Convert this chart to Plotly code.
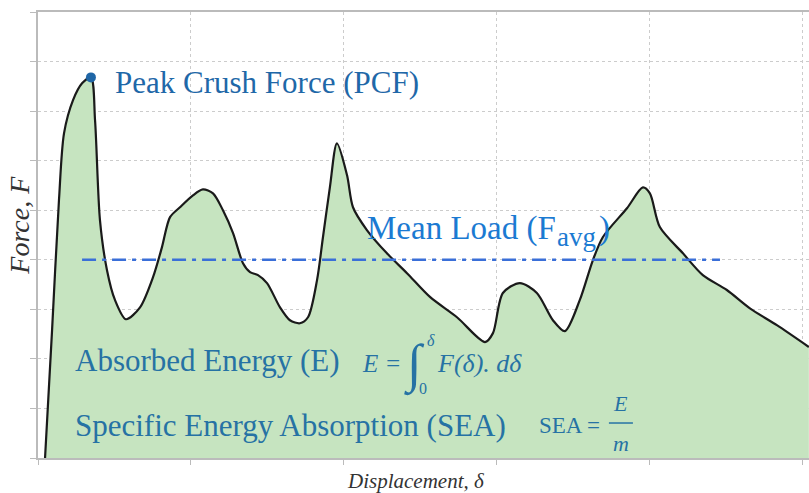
import plotly.graph_objects as go

# Force–displacement response of a crushed tube (arbitrary units)
displacement = [0.046, 0.092, 0.137, 0.170, 0.229, 0.288, 0.346, 0.373, 0.405, 0.451,
                0.503, 0.575, 0.667, 0.752, 0.810, 0.863, 0.928, 1.013, 1.078, 1.144,
                1.209, 1.275, 1.340, 1.386, 1.438, 1.497, 1.582, 1.647, 1.712, 1.765,
                1.824, 1.863, 1.908, 1.954, 2.020, 2.059, 2.150, 2.281, 2.412, 2.562,
                2.739, 2.922, 2.974, 3.039, 3.150, 3.261, 3.366, 3.444, 3.542, 3.627,
                3.693, 3.850, 3.954, 4.000, 4.065, 4.216, 4.346, 4.503, 4.654, 4.830, 5.039]
force = [0.00, 2.58, 5.20, 6.55, 7.22, 7.56, 7.68, 6.81, 4.80, 3.79,
         3.19, 2.80, 3.04, 3.65, 4.25, 4.86, 5.06, 5.30, 5.42, 5.34,
         5.00, 4.54, 3.93, 3.75, 3.69, 3.53, 3.04, 2.78, 2.72, 2.84,
         3.59, 4.46, 5.46, 6.35, 5.71, 5.06, 4.60, 4.13, 3.73, 3.25,
         2.84, 2.34, 2.52, 3.33, 3.53, 3.33, 2.78, 2.56, 3.19, 3.99,
         4.46, 5.04, 5.46, 5.34, 4.66, 4.13, 3.69, 3.39, 3.02, 2.68, 2.24]

pcf_point = (0.346, 7.68)          # peak crush force
mean_load = 4.0                    # F_avg
mean_span = [0.288, 4.458]         # extent of the mean-load line

serif = "Liberation Serif, Times New Roman, serif"
c_pcf = "#1f68a8"
c_mean = "#1b7ad2"
c_text = "#2672a4"

fig = go.Figure()

fig.add_trace(go.Scatter(
    x=displacement, y=force, mode="lines",
    line=dict(color="#1a1a1a", width=2.2, shape="spline", smoothing=0.8),
    fill="tozeroy", fillcolor="#c6e4c0", hoverinfo="skip", showlegend=False))

fig.add_trace(go.Scatter(
    x=mean_span, y=[mean_load, mean_load], mode="lines",
    line=dict(color="#3a6fd8", width=2.5, dash="14px,6px,4px,6px"),
    showlegend=False))

fig.add_trace(go.Scatter(
    x=[pcf_point[0]], y=[pcf_point[1]], mode="markers",
    marker=dict(color="#1f66a6", size=10), showlegend=False))

ann = []
def txt(x, y, s, size, color, italic=False, xanchor="left", yanchor="middle"):
    ann.append(dict(x=x, y=y, xref="x", yref="y", text=s, showarrow=False,
                    xanchor=xanchor, yanchor=yanchor,
                    font=dict(family=serif, size=size, color=color,
                              style="italic" if italic else "normal")))

txt(0.49, 7.58, "Peak Crush Force (PCF)", 31, c_pcf)

# Mean Load (F_avg) with a large subscript
txt(2.137, 4.64, "Mean Load (F", 33, c_mean)
txt(3.379, 4.46, "avg", 27, c_mean)
txt(3.654, 4.64, ")", 33, c_mean)

txt(0.229, 1.976, "Absorbed Energy (E)", 31, c_text)
txt(0.229, 0.665, "Specific Energy Absorption (SEA)", 31, c_text)

# E = ∫_0^δ F(δ). dδ
txt(2.105, 1.915, "E =", 25, c_text, italic=True)
txt(2.458, 1.88, "∫", 53, c_text, xanchor="center")
txt(2.569, 2.38, "δ", 16, c_text, italic=True, xanchor="center")
txt(2.516, 1.41, "0", 16, c_text, xanchor="center")
txt(2.595, 1.915, "F(δ). dδ", 26, c_text, italic=True)

# SEA = E / m
txt(3.261, 0.665, "SEA =", 23, c_text)
txt(3.81, 1.09, "E", 22, c_text, italic=True, xanchor="center")
txt(3.81, 0.30, "m", 22, c_text, italic=True, xanchor="center")

# axis titles
ann.append(dict(x=-0.024, y=0.522, xref="paper", yref="paper", text="Force, F", showarrow=False,
                textangle=-90, xanchor="center", yanchor="middle",
                font=dict(family=serif, size=28, color="#333333", style="italic")))
ann.append(dict(x=0.49, y=-0.052, xref="paper", yref="paper", text="Displacement, δ",
                showarrow=False, xanchor="center", yanchor="middle",
                font=dict(family=serif, size=21, color="#333333", style="italic")))

fig.update_layout(
    width=809, height=493,
    margin=dict(l=38, r=0, t=12, b=35),
    plot_bgcolor="white", paper_bgcolor="white",
    annotations=ann,
    shapes=[dict(type="line", xref="x", yref="y", x0=3.732, x1=3.889, y0=0.706, y1=0.706,
                 line=dict(color=c_text, width=1.5))],
)
fig.update_xaxes(range=[0, 5.04], tickvals=[0, 1, 2, 3, 4, 5], showticklabels=False,
                 ticks="outside", ticklen=5, tickcolor="#bbbbbb",
                 showgrid=True, gridcolor="#cccccc", griddash="dot", gridwidth=1,
                 showline=True, linecolor="#bbbbbb", linewidth=1.5, mirror=True,
                 zeroline=False)
fig.update_yaxes(range=[0, 9], tickvals=list(range(10)), showticklabels=False,
                 ticks="outside", ticklen=6, tickcolor="#bbbbbb",
                 showgrid=True, gridcolor="#cccccc", griddash="dot", gridwidth=1,
                 showline=True, linecolor="#bbbbbb", linewidth=1.5,
                 zeroline=False)

fig.write_html("out.html")
